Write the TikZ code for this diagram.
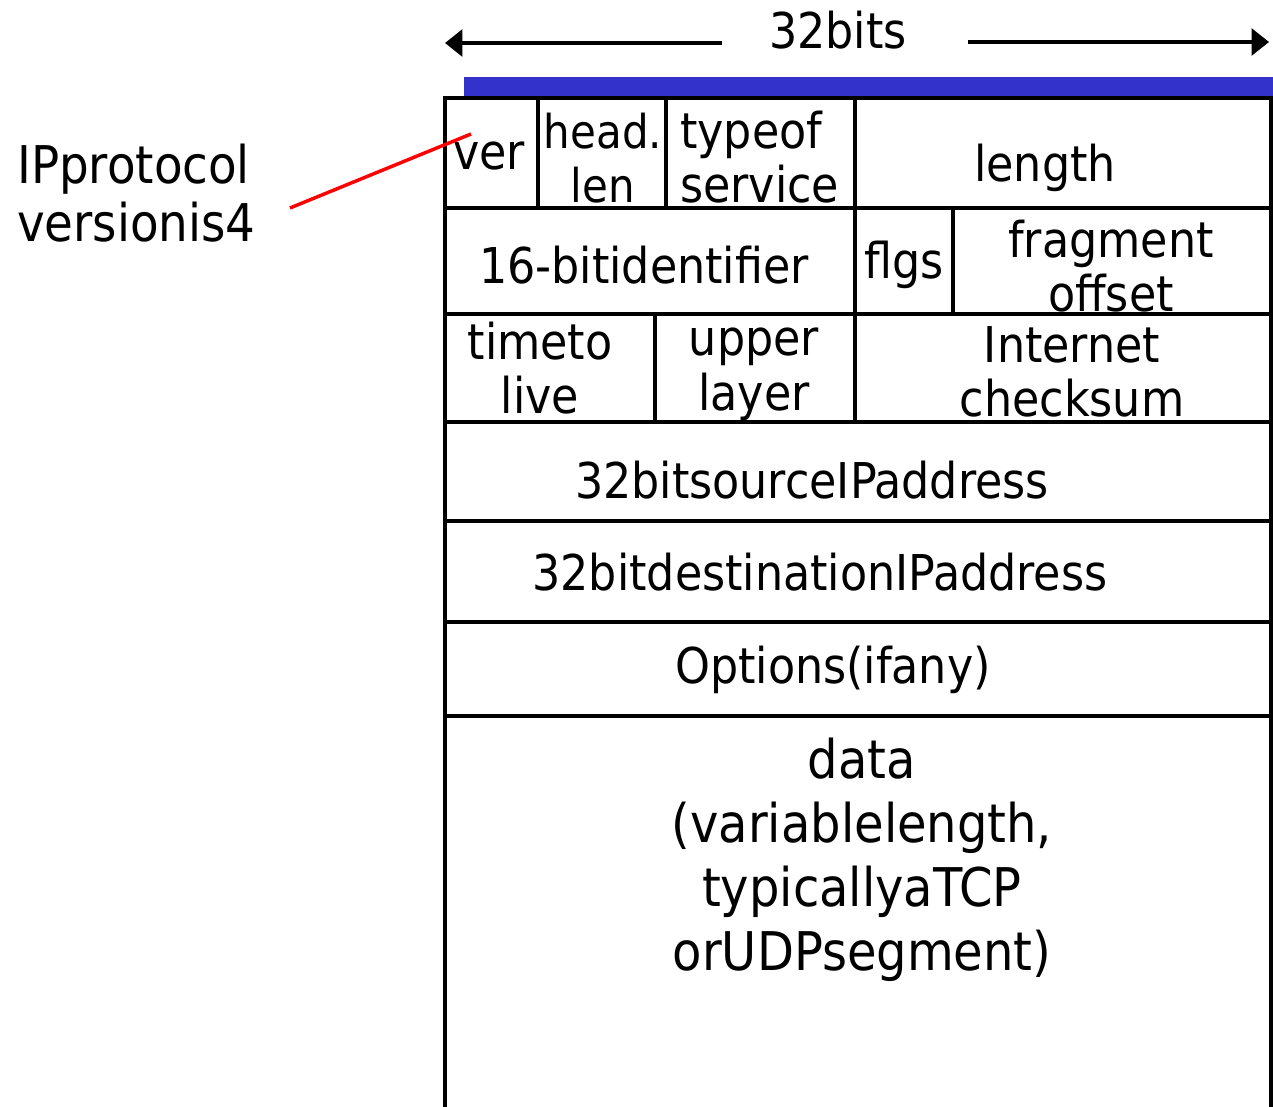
\documentclass[tikz,border=0pt]{standalone}
\usepackage{fontspec}
\setmainfont{DejaVu Sans Condensed}
\usetikzlibrary{arrows.meta}
\definecolor{headerblue}{RGB}{51,51,204}
\definecolor{pointerred}{RGB}{255,0,0}

\begin{document}
\begin{tikzpicture}[x=0.75pt,y=-0.75pt,
        field/.style={font=\fontsize{37}{41}\selectfont, align=center, inner sep=0pt},
        rule/.style={line width=2.8pt},
        dim/.style={line width=2.6pt, -{Triangle[length=13pt,width=20pt]}}]
    \useasboundingbox (0,0) rectangle (1273,1106);
    % width of a row
    \node[field] (bits) at (838,30) {32bits};
    \coordinate (bitsl) at (722,43);
    \coordinate (bitsr) at (968,42);
    \coordinate (wordl) at (445,43);
    \coordinate (wordr) at (1269,42);
    \draw[dim] (bitsl) -- (wordl);
    \draw[dim] (bitsr) -- (wordr);
    \fill[headerblue] (464,77) rectangle (1273,97);
    % outline and rows
    \draw[rule] (445,1110) -- (445,98) -- (1271,98) -- (1271,1110);
    \foreach \y in {208,314,422,521,622,716} {
        \draw[rule] (445,\y) -- (1271,\y);
    }
    \foreach \x in {538,666,855} {
        \draw[rule] (\x,98) -- (\x,208);
    }
    \foreach \x in {855,953} {
        \draw[rule] (\x,208) -- (\x,314);
    }
    \foreach \x in {655,855} {
        \draw[rule] (\x,314) -- (\x,422);
    }
    % header fields
    \node[field] (ver) at (489,156) {ver};
    \node[field, font=\fontsize{35}{41}\selectfont] (hlen) at (603,158) {head.\\len};
    \node[field, anchor=west, align=left] (tos) at (680,157) {typeof\\service};
    \node[field] (length) at (1045,168) {length};
    \node[field] (ident) at (644,265) {16-bitidentifier};
    \node[field] (flgs) at (904,265) {flgs};
    \node[field] (frag) at (1111,266) {fragment\\offset};
    \node[field] (ttl) at (540,368) {timeto\\live};
    \node[field] (proto) at (754,374) {upper\\layer};
    \node[field] (csum) at (1072,372) {Internet\\checksum};
    \node[field] (src) at (812,480) {32bitsourceIPaddress};
    \node[field] (dst) at (820,572) {32bitdestinationIPaddress};
    \node[field] (opts) at (833,670) {Options(ifany)};
    \node[field, font=\fontsize{40}{48}\selectfont] (data) at (862,860)
        {data\\(variablelength,\\typicallyaTCP\\orUDPsegment)};
    % version note
    \node[field, anchor=west, align=left, font=\fontsize{39}{43}\selectfont]
        (note) at (17,193) {IPprotocol\\versionis4};
    \coordinate (notetip) at (290,208);
    \coordinate (vertip) at (471,134);
    \draw[pointerred, line width=2.6pt] (notetip) -- (vertip);
\end{tikzpicture}
\end{document}
